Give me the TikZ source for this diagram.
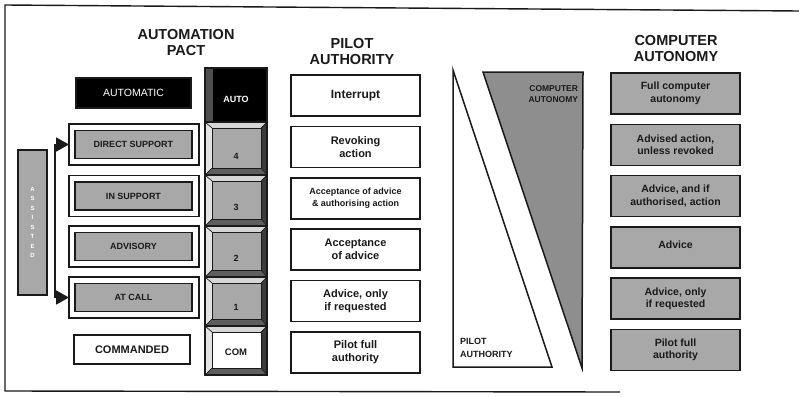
\documentclass[tikz,border=0pt]{standalone}
\usepackage{fontspec}
\setmainfont{Liberation Sans}
\usetikzlibrary{calc,arrows.meta}

\definecolor{ink}{HTML}{1A1A1A}
\definecolor{halftone}{HTML}{A8A8A8}
\definecolor{halfdark}{HTML}{8E8E8E}
\definecolor{bevlight}{HTML}{D6D6D6}
\definecolor{bevside}{HTML}{E4E4E4}
\definecolor{bevright}{HTML}{3A3A3A}
\definecolor{bevbottom}{HTML}{5E5E5E}

\newcommand{\fsz}[2]{\fontsize{#1}{#2}\selectfont}

% bevelled push-button segment of the level column
\newcommand{\bevelseg}[2]{%
  \coordinate (i1) at ($(#1.north west)+(7,6)$);
  \coordinate (i2) at ($(#1.north east)+(-6,6)$);
  \coordinate (i3) at ($(#1.south east)+(-6,-7)$);
  \coordinate (i4) at ($(#1.south west)+(7,-7)$);
  \fill[bevlight] (#1.north west) -- (#1.north east) -- (i2) -- (i1) -- cycle;
  \fill[bevside] (#1.north west) -- (i1) -- (i4) -- (#1.south west) -- cycle;
  \fill[bevright] (#1.north east) -- (#1.south east) -- (i3) -- (i2) -- cycle;
  \fill[bevbottom] (#1.south west) -- (i4) -- (i3) -- (#1.south east) -- cycle;
  \filldraw[fill=#2, draw=ink, line width=0.9pt] (i1) rectangle (i3);
  \draw[ink, line width=0.7pt] (#1.north west) -- (i1) (#1.north east) -- (i2)
    (#1.south east) -- (i3) (#1.south west) -- (i4);
  \draw[ink, line width=1.2pt] (#1.north west) rectangle (#1.south east);
}

\tikzset{
  every node/.style={inner sep=0pt, outer sep=0pt},
  frameline/.style={draw=ink, line width=1.4pt},
  title/.style={font=\bfseries\fsz{14.5}{16.5}, align=center, text=ink, anchor=north},
  pilotbox/.style={draw=ink, line width=1.5pt, fill=white, minimum width=129pt,
    minimum height=41pt, align=center, font=\bfseries\fsz{11}{13}, text=ink},
  compbox/.style={draw=ink, line width=1.6pt, fill=halftone, minimum width=129pt,
    minimum height=41pt, align=center, font=\bfseries\fsz{10.5}{12.5}, text=ink},
  modeouter/.style={draw=ink, line width=1.4pt, fill=white, minimum width=130pt,
    minimum height=41pt},
  modeinner/.style={draw=ink, line width=1.4pt, fill=halftone, minimum width=117pt,
    minimum height=28pt, font=\bfseries\fsz{9}{10}, text=ink},
  seg/.style={minimum width=62pt, anchor=north west},
  segnum/.style={font=\bfseries\fsz{9}{10}, text=ink},
  bothtips/.style={{Triangle[length=13pt, width=14pt]}-{Triangle[length=13pt, width=14pt]}},
  wedgelabel/.style={font=\bfseries\fsz{9}{11}, text=ink},
}

\begin{document}
\begin{tikzpicture}[x=1pt, y=-1pt]
\useasboundingbox (0,0) rectangle (799,396);

% open frame
\draw[frameline] (799,11) -- (5,5) -- (5,391) -- (620,392);

% column titles
\node[title] (tpact) at (186,29) {AUTOMATION\\PACT};
\node[title] (tpilot) at (352,38) {PILOT\\AUTHORITY};
\node[title] (tcomp) at (676,35) {COMPUTER\\AUTONOMY};

% PACT modes
\node[draw=ink, line width=1.2pt, fill=black, minimum width=115pt, minimum height=30pt,
  text=white, font=\fsz{10.5}{12}] (automatic) at (133.5,93) {AUTOMATIC};
\foreach \nm/\txt/\yy in {ds/DIRECT SUPPORT/144.5, is/IN SUPPORT/196,
                          adv/ADVISORY/246.5, ac/AT CALL/297.5}{
  \node[modeouter] (\nm) at (134,\yy) {};
  \node[modeinner] (\nm in) at (133.5,\yy) {\txt};
}
\node[draw=ink, line width=1.4pt, fill=white, minimum width=116pt, minimum height=29pt,
  font=\bfseries\fsz{11}{12}, text=ink] (commanded) at (132,349.5) {COMMANDED};

% assisted-modes bar and its bracket
\node[draw=ink, line width=1.5pt, fill=halftone, minimum width=29pt, minimum height=145pt,
  align=center, font=\bfseries\fsz{6}{9.5}, text=white] (assist) at (32.5,222.5)
  {A\\S\\S\\I\\S\\T\\E\\D};
\coordinate (bx) at (55,0);
\draw[ink, line width=1.8pt, bothtips]
  (ds.west) -- (ds.west -| bx) -- (ac.west -| bx) -- (ac.west);

% level column
\node[seg, minimum height=54pt] (sauto) at (205,68) {};
\node[seg, minimum height=53pt] (s4) at (205,122) {};
\node[seg, minimum height=51pt] (s3) at (205,175) {};
\node[seg, minimum height=51pt] (s2) at (205,226) {};
\node[seg, minimum height=49pt] (s1) at (205,277) {};
\node[seg, minimum height=49pt] (scom) at (205,326) {};

\fill[black] (sauto.north west) rectangle (sauto.south east);
\fill[halfdark!55!black] (sauto.north west) rectangle ($(sauto.south west)+(8,0)$);
\draw[ink, line width=1.2pt] (sauto.north west) rectangle (sauto.south east);
\node[font=\bfseries\fsz{9}{10}, text=white] (autotxt) at ($(sauto.center)+(0,4)$) {AUTO};

\bevelseg{s4}{halftone}
\bevelseg{s3}{halftone}
\bevelseg{s2}{halftone}
\bevelseg{s1}{halftone}
\bevelseg{scom}{white}
\node[segnum] (n4) at ($(s4.south)+(0,-19)$) {4};
\node[segnum] (n3) at ($(s3.south)+(0,-19)$) {3};
\node[segnum] (n2) at ($(s2.south)+(0,-19)$) {2};
\node[segnum] (n1) at ($(s1.south)+(0,-19)$) {1};
\node[font=\bfseries\fsz{9.5}{10}, text=ink] (comtxt) at ($(scom.center)+(0,2)$) {COM};

% pilot authority levels
\node[pilotbox, font=\bfseries\fsz{12}{13}] (p6) at (355.5,95.5) {\raisebox{3pt}{Interrupt}};
\node[pilotbox] (p5) at (355.5,146.9) {Revoking\\action};
\node[pilotbox, font=\bfseries\fsz{9}{11.5}] (p4) at (355.5,198.3)
  {Acceptance of advice\\\& authorising action};
\node[pilotbox] (p3) at (355.5,249.7) {Acceptance\\of advice};
\node[pilotbox] (p2) at (355.5,301.1) {Advice, only\\if requested};
\node[pilotbox] (p1) at (355.5,352.5) {Pilot full\\authority};

% authority / autonomy wedges
\coordinate (pa1) at (453,70);
\coordinate (pa2) at (453,367);
\coordinate (pa3) at (552,367);
\draw[ink, line width=1.5pt, fill=white, line join=miter] (pa1) -- (pa3) -- (pa2) -- cycle;
\coordinate (ca1) at (483,72);
\coordinate (ca2) at (583,72);
\coordinate (ca3) at (582,368);
\draw[ink, line width=1.5pt, fill=halfdark, line join=miter] (ca1) -- (ca2) -- (ca3) -- cycle;
\node[wedgelabel, anchor=north west, align=left, font=\bfseries\fsz{9}{13}] (plab) at (460,338)
  {PILOT\\AUTHORITY};
\node[wedgelabel, anchor=north east, align=right, font=\bfseries\fsz{8.5}{10.5}] (clab) at (578,86)
  {COMPUTER\\AUTONOMY};

% computer autonomy levels
\node[compbox] (c6) at (675.5,93.5) {Full computer\\autonomy};
\node[compbox] (c5) at (675.5,144.8) {Advised action,\\unless revoked};
\node[compbox] (c4) at (675.5,196.1) {Advice, and if\\authorised, action};
\node[compbox] (c3) at (675.5,247.4) {\raisebox{5pt}{Advice}};
\node[compbox] (c2) at (675.5,298.7) {Advice, only\\if requested};
\node[compbox] (c1) at (675.5,350) {Pilot full\\authority};
\end{tikzpicture}
\end{document}
